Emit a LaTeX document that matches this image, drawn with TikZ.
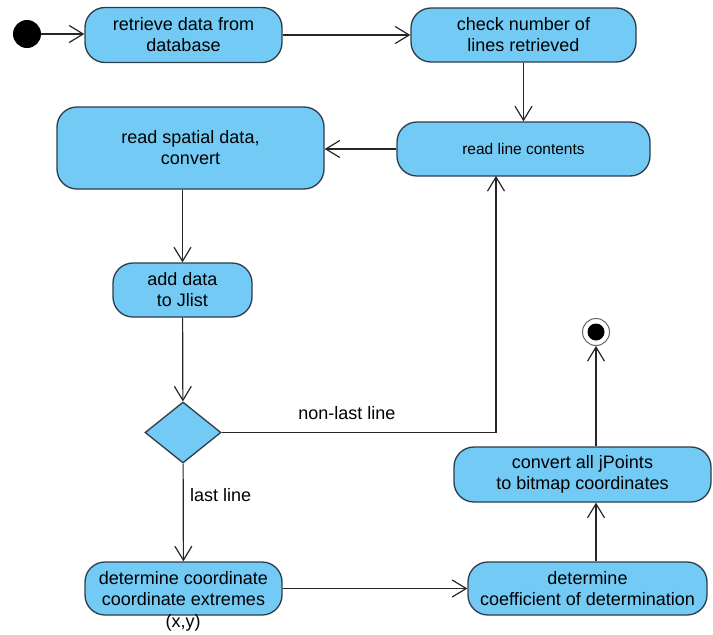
\documentclass[tikz,border=0pt]{standalone}
\usepackage{fontspec}
\setmainfont{Liberation Sans}
\usetikzlibrary{arrows.meta,shapes.geometric}
\definecolor{actfill}{RGB}{115,203,245}
\definecolor{actline}{RGB}{45,60,75}
\begin{document}
\begin{tikzpicture}[x=1pt,y=-1pt,
  act/.style={draw=actline, fill=actfill, line width=1.3pt, rounded corners=20pt, align=center, inner sep=0pt, font=\fontsize{18}{21}\selectfont},
  flow/.style={draw=black!85, line width=1.2pt, -{Straight Barb[length=14pt,width=17pt,line width=1.2pt]}},
  lbl/.style={font=\fontsize{18}{21}\selectfont, inner sep=0pt}]
\useasboundingbox (0,0) rectangle (713,635);
\node[circle, fill=black, minimum size=28pt, inner sep=0pt] (start) at (27,34) {};
\node[act, minimum width=197pt, minimum height=55pt] (retrieve) at (183.5,35) {retrieve data from\\database};
\node[act, minimum width=225pt, minimum height=54pt] (check) at (523.5,35) {check number of\\lines retrieved};
\node[act, minimum width=253pt, minimum height=54pt, font=\fontsize{15.5}{19}\selectfont] (readline) at (523.5,149) {read line contents};
\node[act, minimum width=267pt, minimum height=82pt] (readspatial) at (190.5,148) {read spatial data,\\convert};
\node[act, minimum width=139pt, minimum height=54pt] (adddata) at (182.5,290) {add data\\to Jlist};
\node[diamond, draw=actline, fill=actfill, line width=1.3pt, minimum width=76pt, minimum height=61pt, aspect=1.25, inner sep=0pt] (dec) at (183,432.5) {};
\node[act, minimum width=197pt, minimum height=53pt] (detcoord) at (183.5,588.5) {determine coordinate\\coordinate extremes};
\node[lbl] (xy) at (183,623) {(x,y)};
\node[act, minimum width=239pt, minimum height=53pt] (detcoef) at (587.5,588.5) {determine\\coefficient of determination};
\node[act, minimum width=257pt, minimum height=55pt] (convert) at (582.5,474.5) {convert all jPoints\\to bitmap coordinates};
\node[circle, draw=black!60, fill=white, line width=1pt, minimum size=27pt, inner sep=0pt] (final) at (596,332) {};
\fill[black] (final.center) circle (8.5pt);
\coordinate (nl) at (496,176);
\draw[flow] (start.east) -- (start.east -| retrieve.west);
\draw[flow] (retrieve) -- (check);
\draw[flow] (check) -- (readline);
\draw[flow] (readline.west) -- (readline.west -| readspatial.east);
\draw[flow] (adddata.north |- readspatial.south) -- (adddata.north);
\draw[flow] (adddata) -- (dec);
\draw[flow] (dec.east) -| (nl);
\node[lbl] (nonlast) at (347,413) {non-last line};
\draw[flow] (dec) -- (detcoord);
\node[lbl, anchor=west] (last) at (190,495) {last line};
\draw[flow] (detcoord) -- (detcoef);
\draw[flow] (final |- detcoef.north) -- (final |- convert.south);
\draw[flow] (final |- convert.north) -- (final.south);
\end{tikzpicture}
\end{document}
